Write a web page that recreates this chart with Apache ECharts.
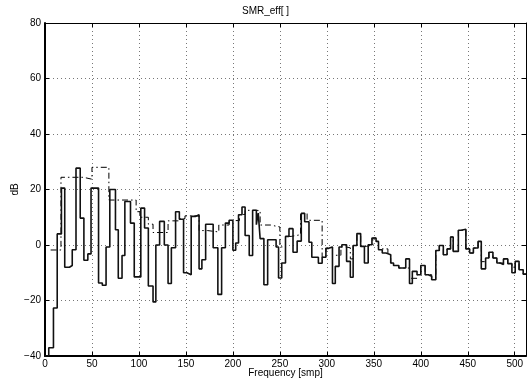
<!DOCTYPE html>
<html>
<head>
<meta charset="utf-8">
<script src="https://cdn.jsdelivr.net/npm/echarts@6/dist/echarts.min.js"></script>
<style>html,body{margin:0;padding:0;background:#fff}#c{width:531px;height:381px}</style>
</head>
<body>
<div id="c"></div>
<script>
// Solid line: step start frequencies and values (dB)
const solidX = [0,4,9,13,17.5,21,26,29,33,37.5,41.4,45.6,49,57,61,65,69,75,78,82,85,91,95,
  102,106,110,115,118,122,127,131,134.5,139,143,147.5,151,155.6,160,164,167,171,179,184,188,192,196,
  200,203,206,209.7,213,217.4,221,225,227,229,233,237,246,248.6,252,256,259.7,264,268.4,272.8,276.4,281,284,291,295,299,
  302,306,309,313,316,321,325,328,332,336,340,344,348,352.4,355,359,363,368,371,376.6,384,388,391,396,
  400,404.6,408,411.6,416,419.7,424,428,431.7,434.5,440,443,448,452,456,461,464.4,469,472.5,476.8,481,484.5,488,492.6,497,
  500.5,504.6,509,512];
const solidY = [-40,-37,-22.7,4,20.5,-8,-7.4,-1.7,27.7,9.7,-5.5,-3.2,20.5,-13.7,-14.5,-0.7,20,5.5,-12,-3.8,15.7,7.9,-11.5,
  13.3,6.1,-14.8,-20.5,0,8.5,0,-13.9,-1,12,9.3,-10,-10.7,10.3,10.9,-8.6,-5.3,7.5,-1,-17.8,-1,7.9,8.9,
  -1.9,0.7,10.9,13.7,3.4,-3.8,12.5,7.3,11.5,2.3,-14.3,1.9,-0.7,-11.9,-6.5,3.1,5.9,-2.6,1.4,11.4,8.4,1,-4.4,-6.6,-4.4,-1.2,
  -0.7,-13.9,-7.7,-0.7,0.1,-5.9,-11.6,-0.2,4.1,-0.5,-6.5,0.1,2.5,1.3,-1.7,-2.9,-3.5,-6.5,-7.4,-8.3,-5,-13.9,-9.5,-10.7,
  -7.4,-10.7,-11.3,-12.5,-2,-0.2,-3.5,-1.4,2.9,-2.3,5.3,5.7,-1.4,-2.9,-1.1,1.3,-8.6,-4.7,-2.6,-4.7,-6.5,-7,-5,-6.7,-10,
  -5.9,-8.9,-10.5,-10.5];
// Dash-dot line: step start frequencies and values (dB)
const dashX = [6,17,41,50,68,97,101,110,115,131,142,149,164,173,185,196,207,213,225,229,240,250,256,262,272,279,295,299,
  303,306,315,320,325,328,332,336,342,349,352.4,355,365,368,371,376.6,388,396,
  400,404.6,411.6,416,419.7,424,428,431.7,434.5,440,448,452,456,461,464.4,469,472.5,476.8,481,488,492.6,497,
  500.5,504.6,509,512];
const dashY = [-1.8,24.4,23.7,28,16.2,12,10,7.5,4.5,8.7,9.5,10.5,5.2,4.7,7.2,8.8,11,12.5,12.4,7.2,6.5,-0.7,3.1,3.7,11.4,8.9,-4.4,-1.2,
  -0.7,-3.7,-0.7,-1,-5,-0.2,4.1,-0.5,0,2.5,1.3,-1.4,-3.5,-6.5,-7.4,-8.3,-12,-10.7,
  -7.4,-10.7,-12,-2,-0.2,-3.5,-1.4,2.9,-2.3,5.3,-1.4,-2.9,-1.1,1.3,-6,-4.7,-2.6,-4.7,-6.5,-5,-6.7,-8,
  -5.9,-8.9,-10.5,-10.5];
const xTicks = [0,50,100,150,200,250,300,350,400,450,500];
const yTicks = [-40,-20,0,20,40,60,80];

const solidData = solidX.map((x,i)=>[x,solidY[i]]);
const dashData = dashX.map((x,i)=>[x,dashY[i]]);
const FONT = 'Liberation Sans, Arial, Helvetica, sans-serif';
const minus = v => String(v).replace('-', '\u2212');

const chart = echarts.init(document.getElementById('c'), null, {renderer:'canvas'});
const gridLine = {show:true, lineStyle:{color:'#777', type:[1,3], width:1}};
chart.setOption({
  animation:false,
  backgroundColor:'#fff',
  title:{text:'SMR_eff[ ]', left:'center', top:6, padding:0,
    textStyle:{fontFamily:FONT, fontSize:10, fontWeight:'normal', color:'#000'}},
  grid:{left:45, right:5, top:23, bottom:25, show:false, containLabel:false, outerBoundsMode:'none'},
  xAxis:[{
    type:'value', min:0, max:512, interval:50,
    name:'Frequency [smp]', nameLocation:'middle', nameGap:12, nameMoveOverlap:false,
    nameTextStyle:{fontFamily:FONT, fontSize:10, color:'#000'},
    axisLine:{show:true, onZero:false, lineStyle:{color:'#000', width:2}},
    axisTick:{show:true, inside:true, length:4, lineStyle:{color:'#000'}},
    axisLabel:{fontFamily:FONT, fontSize:10, color:'#000', margin:3, showMaxLabel:false,
      formatter:v=>xTicks.includes(v)?minus(v):''},
    splitLine:gridLine
  },{
    type:'value', position:'top', min:0, max:512, interval:50,
    axisLine:{show:true, onZero:false, lineStyle:{color:'#000', width:1}},
    axisTick:{show:true, inside:true, length:4, lineStyle:{color:'#000'}},
    axisLabel:{show:false}, splitLine:{show:false}
  }],
  yAxis:[{
    type:'value', min:-40, max:80, interval:20,
    name:'dB', nameLocation:'middle', nameGap:25, nameRotate:90, nameMoveOverlap:false,
    nameTextStyle:{fontFamily:FONT, fontSize:10, color:'#000'},
    axisLine:{show:true, onZero:false, lineStyle:{color:'#000', width:2}},
    axisTick:{show:true, inside:true, length:4, lineStyle:{color:'#000'}},
    axisLabel:{fontFamily:FONT, fontSize:10, color:'#000', margin:4,
      formatter:v=>yTicks.includes(v)?minus(v):''},
    splitLine:gridLine
  },{
    type:'value', position:'right', min:-40, max:80, interval:20,
    axisLine:{show:true, onZero:false, lineStyle:{color:'#000', width:1}},
    axisTick:{show:true, inside:true, length:4, lineStyle:{color:'#000'}},
    axisLabel:{show:false}, splitLine:{show:false}
  }],
  series:[{
    type:'line', step:'end', data:dashData, symbol:'none', silent:true, z:2,
    lineStyle:{color:'#000', width:1, type:[6,3,1.5,3]}
  },{
    type:'line', step:'end', data:solidData, symbol:'none', silent:true, z:3,
    lineStyle:{color:'#111', width:1.6}
  }]
});
</script>
</body>
</html>
